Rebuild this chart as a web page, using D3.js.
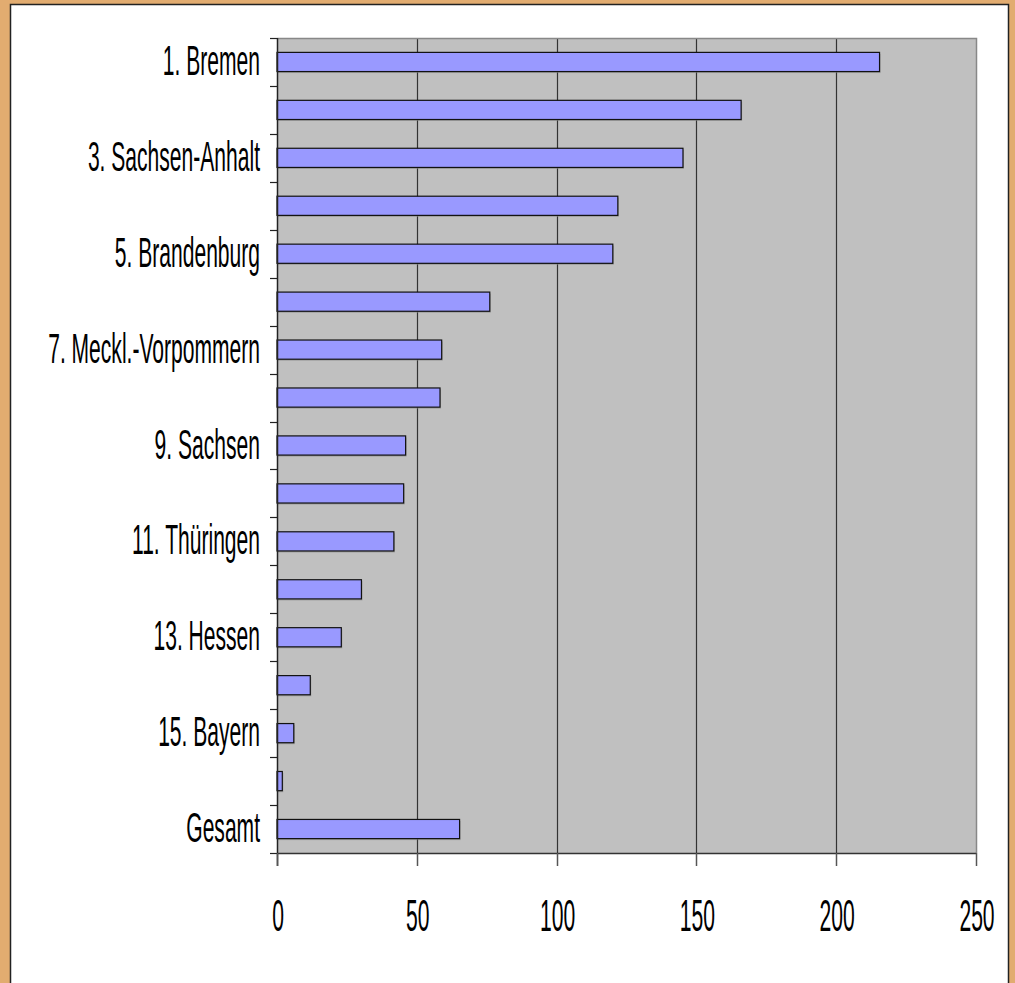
<!DOCTYPE html>
<html><head><meta charset="utf-8">
<script src="https://cdn.jsdelivr.net/npm/d3@7"></script>
<style>html,body{margin:0;padding:0;background:#fff;}svg{display:block;}</style>
</head><body>
<script>
const categories = ["1. Bremen","2.","3. Sachsen-Anhalt","4.","5. Brandenburg","6.","7. Meckl.-Vorpommern","8.","9. Sachsen","10.","11. Thüringen","12.","13. Hessen","14.","15. Bayern","16.","Gesamt"];
const tickLabels = ["1. Bremen","","3. Sachsen-Anhalt","","5. Brandenburg","","7. Meckl.-Vorpommern","","9. Sachsen","","11. Thüringen","","13. Hessen","","15. Bayern","","Gesamt"];
const values = [215.5,166,145.2,121.9,120.1,76.1,58.9,58.3,46,45.3,41.8,30.2,23,11.9,6,1.9,65.3];
const xTicks = [0,50,100,150,200,250];

const W=1015,H=983;
const svg=d3.select("body").append("svg").attr("width",W).attr("height",H);
// frame
svg.append("rect").attr("x",0).attr("y",0).attr("width",W).attr("height",H).attr("fill","#E2AC70");
svg.append("rect").attr("x",10.5).attr("y",4.5).attr("width",998).attr("height",H).attr("fill","#fff").attr("stroke","#222").attr("stroke-width",1.5);

const L=277,R=976,T=38,B=853;
const x=d3.scaleLinear().domain([0,250]).range([L,R]);
const y=d3.scaleBand().domain(categories).range([T,B]).paddingInner(0.6).paddingOuter(0.3);
const yb=d3.scaleBand().domain(categories).range([T,B]);

svg.append("rect").attr("x",L).attr("y",T).attr("width",R-L).attr("height",B-T).attr("fill","#C0C0C0");
// gridlines
svg.append("g").selectAll("line").data(xTicks.slice(1,-1)).join("line")
  .attr("x1",d=>Math.round(x(d))+0.5).attr("x2",d=>Math.round(x(d))+0.5)
  .attr("y1",T).attr("y2",B).attr("stroke","#333").attr("stroke-width",1.2);
// plot border top/right
svg.append("path").attr("d",`M${L},${T+0.5}H${R+0.5}V${B}`).attr("fill","none").attr("stroke","#888").attr("stroke-width",1.5);

// bar shadows
svg.append("g").selectAll("rect").data(values).join("rect")
  .attr("x",L+1).attr("y",(d,i)=>y(categories[i])+1.5)
  .attr("width",d=>x(d)-L).attr("height",y.bandwidth())
  .attr("fill","#888").attr("opacity",0.6);
// bars
svg.append("g").selectAll("rect").data(values).join("rect")
  .attr("x",L).attr("y",(d,i)=>y(categories[i]))
  .attr("width",d=>x(d)-L).attr("height",y.bandwidth())
  .attr("fill","#9999FF").attr("stroke","#111").attr("stroke-width",1.2);

// y axis
const yAxis=svg.append("g");
yAxis.append("line").attr("x1",L+0.5).attr("x2",L+0.5).attr("y1",T).attr("y2",B+13).attr("stroke","#222").attr("stroke-width",1.5);
const bounds=categories.map(c=>yb(c)).concat([B]);
yAxis.selectAll("line.t").data(bounds).join("line").attr("class","t")
  .attr("x1",L-7).attr("x2",L).attr("y1",d=>Math.round(d)+0.5).attr("y2",d=>Math.round(d)+0.5)
  .attr("stroke","#222").attr("stroke-width",1.2);
const sx=0.49;
yAxis.selectAll("text").data(categories).join("text")
  .attr("transform",c=>`translate(${260},${yb(c)+yb.bandwidth()/2+13}) scale(${sx},1)`)
  .attr("text-anchor","end").attr("font-family","'Liberation Sans',Arial,sans-serif").attr("font-size",43)
  .attr("fill","#000").text((c,i)=>tickLabels[i]);

// x axis
const xAxis=svg.append("g");
xAxis.append("line").attr("x1",L).attr("x2",R).attr("y1",B+0.5).attr("y2",B+0.5).attr("stroke","#333").attr("stroke-width",1.5);
xAxis.selectAll("line.t").data(xTicks).join("line").attr("class","t")
  .attr("x1",d=>Math.round(x(d))+0.5).attr("x2",d=>Math.round(x(d))+0.5)
  .attr("y1",B).attr("y2",B+13).attr("stroke","#555").attr("stroke-width",1.5);
xAxis.selectAll("text").data(xTicks).join("text")
  .attr("transform",d=>`translate(${x(d)+1},931) scale(0.48,1)`)
  .attr("text-anchor","middle").attr("font-family","'Liberation Sans',Arial,sans-serif").attr("font-size",44)
  .attr("fill","#000").text(d=>d);
</script>
</body></html>
